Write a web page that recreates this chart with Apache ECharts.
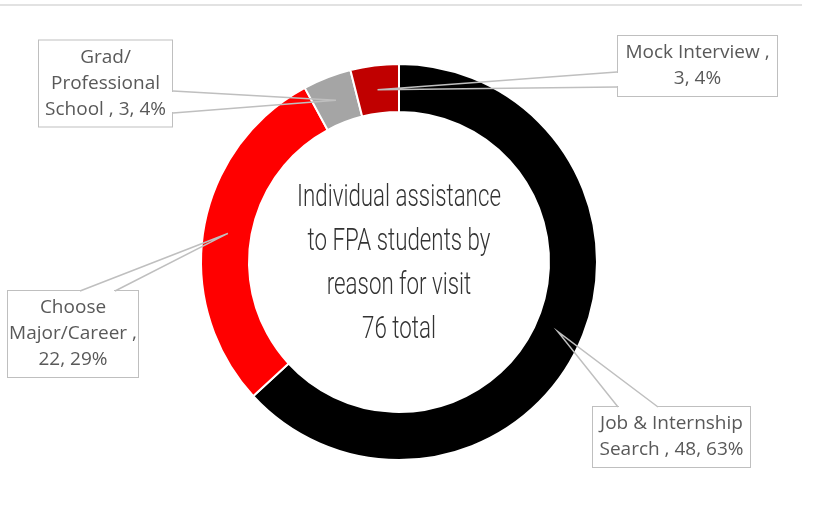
<!DOCTYPE html>
<html>
<head>
<meta charset="utf-8">
<script src="https://cdn.jsdelivr.net/npm/echarts@6/dist/echarts.min.js"></script>
<style>
html, body { margin: 0; padding: 0; background: #fff; }
#chart { width: 816px; height: 512px; }
</style>
</head>
<body>
<div id="chart"></div>
<script>
// reasons for visit, clockwise from 12 o'clock
var categories = ['Job & Internship Search', 'Choose Major/Career', 'Grad/Professional School', 'Mock Interview'];
var visits = [48, 22, 3, 3];
var sliceColors = ['#000000', '#FF0000', '#A5A5A5', '#C00000'];
// callout texts, wrapped the way the original wraps them
var labelTemplates = [
    'Job & Internship\nSearch , {c}, {d}%',
    'Choose\nMajor/Career ,\n{c}, {d}%',
    'Grad/\nProfessional\nSchool , {c}, {d}%',
    'Mock Interview ,\n{c}, {d}%'
];
var titleLines = ['Individual assistance', 'to FPA students by', 'reason for visit'];

var total = visits.reduce(function (a, b) { return a + b; }, 0);

var cx = 399, cy = 262, rIn = 150, rOut = 197;

// callout boxes: centre, width, and the two points where the pointer leaves the box
var boxes = [
    { x: 671.5, y: 437, w: 159, base: [[618, 407], [658, 407]] },
    { x: 73, y: 334, w: 132, base: [[80, 291], [115, 291]] },
    { x: 105.5, y: 83.5, w: 135, base: [[173, 91], [173, 113]] },
    { x: 697.5, y: 66, w: 161, base: [[617, 72], [617, 87]] }
];

// pointer tips sit in the middle of the ring at each slice's mid angle
var tips = [];
var acc = 0;
visits.forEach(function (v) {
    var mid = (acc + v / 2) / total * 2 * Math.PI;
    acc += v;
    var r = (rIn + rOut) / 2;
    tips.push([cx + r * Math.sin(mid), cy - r * Math.cos(mid)]);
});

// callout pointers: open the box edge, then draw the two sides of the wedge
var pointers = [];
boxes.forEach(function (b, i) {
    var a = b.base[0], c = b.base[1];
    var vert = a[0] === c[0];
    pointers.push({
        type: 'line',
        z: 100,
        shape: vert ? { x1: a[0], y1: a[1] + 1, x2: c[0], y2: c[1] - 1 }
                    : { x1: a[0] + 1, y1: a[1], x2: c[0] - 1, y2: c[1] },
        style: { stroke: '#ffffff', lineWidth: 2 }
    });
    pointers.push({
        type: 'polyline',
        z: 101,
        shape: { points: [a, tips[i], c] },
        style: { stroke: '#BFBFBF', lineWidth: 1.5, fill: null }
    });
});

var chart = echarts.init(document.getElementById('chart'));

var option = {
    animation: false,
    graphic: [
        {
            type: 'line',
            shape: { x1: 0, y1: 5, x2: 802, y2: 5 },
            style: { stroke: '#D9D9D9', lineWidth: 1.5 }
        },
        {
            type: 'text',
            x: cx,
            y: cy + 2,
            scaleX: 0.72,
            style: {
                text: titleLines.concat([total + ' total']).join('\n'),
                fontFamily: 'Roboto',
                fontWeight: 300,
                fontSize: 31,
                lineHeight: 44,
                fill: '#333333',
                align: 'center',
                verticalAlign: 'middle'
            }
        }
    ].concat(pointers),
    series: [{
        type: 'pie',
        center: [cx, cy],
        radius: [rIn, rOut + 1],
        startAngle: 90,
        clockwise: true,
        percentPrecision: 0,
        avoidLabelOverlap: false,
        silent: true,
        itemStyle: { borderColor: '#ffffff', borderWidth: 2 },
        label: {
            show: true,
            position: 'outside',
            color: '#595959',
            fontFamily: 'Open Sans',
            fontSize: 19,
            lineHeight: 26,
            backgroundColor: '#ffffff',
            borderColor: '#BFBFBF',
            borderWidth: 1,
            padding: [4, 4],
            align: 'center',
            overflow: 'none'
        },
        labelLine: { show: false },
        labelLayout: function (p) {
            var b = boxes[p.dataIndex];
            return { x: b.x, y: b.y, align: 'center', verticalAlign: 'middle' };
        },
        data: categories.map(function (name, i) {
            return {
                name: name,
                value: visits[i],
                itemStyle: { color: sliceColors[i] },
                label: { formatter: labelTemplates[i], width: boxes[i].w - 10 }
            };
        })
    }]
};

chart.setOption(option);
</script>
</body>
</html>
